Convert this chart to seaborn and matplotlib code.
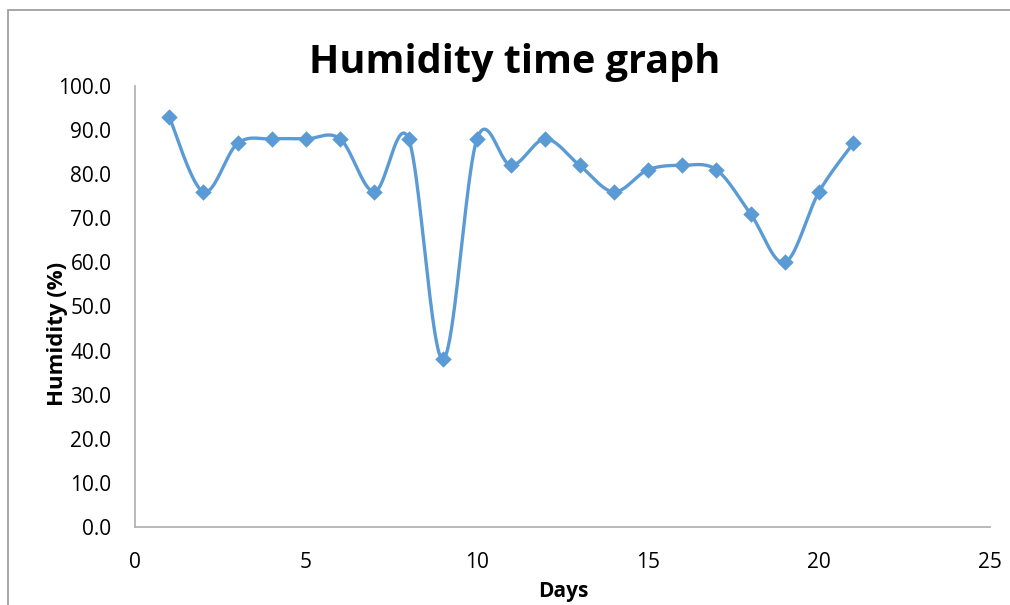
import numpy as np
import matplotlib
matplotlib.use("Agg")
import matplotlib.pyplot as plt
import seaborn as sns
import pandas as pd

days = [1, 2, 3, 4, 5, 6, 7, 8, 9, 10, 11, 12, 13, 14, 15, 16, 17, 18, 19, 20, 21]
humidity = [93, 76, 87, 88, 88, 88, 76, 88, 38, 88, 82, 88, 82, 76, 81, 82, 81, 71, 60, 76, 87]
x_ticks = [0, 5, 10, 15, 20, 25]
y_ticks = [0, 10, 20, 30, 40, 50, 60, 70, 80, 90, 100]

title = "Humidity time graph"
x_label = "Days"
y_label = "Humidity (%)"

LINE = "#5B9BD5"
AXIS = "#B3B3B3"
FONT = ["Open Sans", "DejaVu Sans"]

sns.set_theme(style="white")
plt.rcParams["font.family"] = FONT


def smooth(xs, ys, n=40):
    # Catmull-Rom style bezier smoothing, similar to Excel's smoothed line
    xs = np.asarray(xs, float)
    ys = np.asarray(ys, float)
    P = np.column_stack([xs, ys])
    out = []
    for i in range(len(P) - 1):
        p0 = P[i - 1] if i > 0 else P[i]
        p1 = P[i]
        p2 = P[i + 1]
        p3 = P[i + 2] if i + 2 < len(P) else P[i + 1]
        c1 = p1 + (p2 - p0) / 6.0
        c2 = p2 - (p3 - p1) / 6.0
        t = np.linspace(0, 1, n, endpoint=(i == len(P) - 2))[:, None]
        seg = ((1 - t) ** 3) * p1 + 3 * ((1 - t) ** 2) * t * c1 + 3 * (1 - t) * t ** 2 * c2 + t ** 3 * p2
        out.append(seg)
    out = np.vstack(out)
    return out[:, 0], out[:, 1]


df = pd.DataFrame({"Days": days, "Humidity": humidity})
sx, sy = smooth(days, humidity)
curve = pd.DataFrame({"x": sx, "y": sy})

fig = plt.figure(figsize=(10.10, 6.05), dpi=100)
ax = fig.add_axes([135 / 1010, 78 / 605, 855 / 1010, 441 / 605])

sns.lineplot(data=curve, x="x", y="y", ax=ax, color=LINE, linewidth=2.4, sort=False,
             estimator=None)
sns.scatterplot(data=df, x="Days", y="Humidity", ax=ax, color=LINE, marker="D", s=70,
                edgecolor=LINE, linewidth=0, zorder=3)

ax.set_xlim(0, 25)
ax.set_ylim(0, 100)
ax.set_xticks(x_ticks)
ax.set_xticklabels([str(v) for v in x_ticks])
ax.set_yticks(y_ticks)
ax.set_yticklabels([f"{v:.1f}" for v in y_ticks])
ax.tick_params(axis="both", length=0, labelsize=15, colors="black")
ax.tick_params(axis="y", pad=17)
ax.tick_params(axis="x", pad=18)

for s in ["top", "right"]:
    ax.spines[s].set_visible(False)
for s in ["left", "bottom"]:
    ax.spines[s].set_color(AXIS)
    ax.spines[s].set_linewidth(1.3)

ax.set_xlabel("")
ax.set_ylabel("")
fig.text(563 / 1010, 1 - 591 / 605, x_label, ha="center", va="center",
         fontsize=15, fontweight="bold", family=FONT, color="black")
fig.text(58 / 1010, 1 - 334 / 605, y_label, ha="center", va="center", rotation=90,
         fontsize=16, fontweight="bold", family=FONT, color="black")
fig.text(515 / 1010, 1 - 62 / 605, title, ha="center", va="center",
         fontsize=28.5, fontweight="bold", family=FONT, color="black")

# chart area border
border = plt.Rectangle((8 / 1010, -0.05), 1.1, 1 - 10 / 605 + 0.05, transform=fig.transFigure,
                       fill=False, edgecolor="#A0A0A0", linewidth=1.3)
fig.patches.append(border)

fig.savefig("out.png", dpi=100)
